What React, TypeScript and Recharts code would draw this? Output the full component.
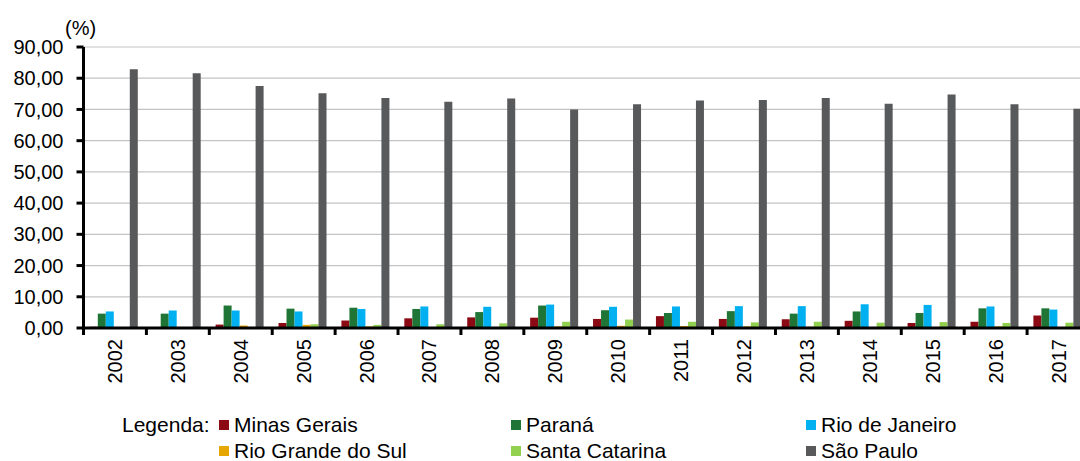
import React from 'react';
import { BarChart, Bar, XAxis, YAxis, CartesianGrid } from 'recharts';

// Participação percentual por estado, 2002–2017
const years = ['2002', '2003', '2004', '2005', '2006', '2007', '2008', '2009', '2010', '2011', '2012', '2013', '2014', '2015', '2016', '2017'];
const minasGerais = [0.4, 0.1, 1.1, 1.6, 2.4, 3.1, 3.4, 3.3, 2.9, 3.8, 2.9, 2.8, 2.3, 1.6, 2.0, 4.0];
const parana = [4.6, 4.6, 7.2, 6.2, 6.5, 6.1, 5.1, 7.2, 5.7, 4.8, 5.4, 4.6, 5.3, 4.8, 6.3, 6.3];
const rioDeJaneiro = [5.3, 5.6, 5.6, 5.3, 6.1, 6.9, 6.8, 7.5, 6.8, 6.9, 7.0, 7.0, 7.6, 7.4, 6.9, 5.9];
const rioGrandeDoSul = [0.2, 0.0, 0.8, 1.0, 0.5, 0.2, 0.2, 0.5, 0.7, 0.6, 0.5, 0.4, 0.3, 0.2, 0.5, 0.2];
const santaCatarina = [0.1, 0.2, 0.1, 1.2, 1.0, 1.2, 1.5, 2.0, 2.7, 2.0, 1.8, 2.0, 1.7, 1.9, 1.6, 1.7];
const saoPaulo = [82.9, 81.6, 77.5, 75.2, 73.7, 72.5, 73.5, 70.0, 71.7, 72.9, 73.0, 73.7, 71.8, 74.8, 71.7, 70.2];
const yTicks = [0, 10, 20, 30, 40, 50, 60, 70, 80, 90];

const series = [
  { key: 'mg', name: 'Minas Gerais', values: minasGerais, color: '#8B0A14' },
  { key: 'pr', name: 'Paraná', values: parana, color: '#1F7535' },
  { key: 'rj', name: 'Rio de Janeiro', values: rioDeJaneiro, color: '#00B0F0' },
  { key: 'rs', name: 'Rio Grande do Sul', values: rioGrandeDoSul, color: '#E6A700' },
  { key: 'sc', name: 'Santa Catarina', values: santaCatarina, color: '#92D050' },
  { key: 'sp', name: 'São Paulo', values: saoPaulo, color: '#58595B' },
];

const data = years.map((year, i) => {
  const row: Record<string, string | number> = { year };
  series.forEach((s) => {
    row[s.key] = s.values[i];
  });
  return row;
});

const FONT = '"Liberation Sans", Arial, sans-serif';
const CHART_W = 1087;
const CHART_H = 400;
const Y_AXIS_W = 75.5;
const MARGIN = { top: 39, right: 5, left: 0, bottom: 0 };
const BAND = (CHART_W - Y_AXIS_W - MARGIN.right - MARGIN.left) / years.length;

const formatPct = (v: number) => v.toFixed(2).replace('.', ',');

const YearTick = (props: any) => {
  const { x, y, payload } = props;
  const half = payload && typeof payload.offset === 'number' && payload.offset > 0 ? payload.offset : BAND / 2;
  const bx = x - half;
  return (
    <g>
      <line x1={bx} x2={bx} y1={y} y2={y + 7} stroke="#000" strokeWidth={3} />
      <text
        transform={`translate(${x},${y + 11}) rotate(-90)`}
        textAnchor="end"
        dominantBaseline="central"
        fontFamily={FONT}
        fontSize={20}
        fill="#000"
      >
        {payload.value}
      </text>
    </g>
  );
};

const legendCols = [211, 503, 798];
const legendRows = [417, 443];

export default function App() {
  return (
    <div
      style={{
        width: 1080,
        height: 461,
        overflow: 'hidden',
        background: '#fff',
        fontFamily: FONT,
      }}
    >
      <style>{'html, body { margin: 0; padding: 0; overflow: hidden; }'}</style>
      <div style={{ position: 'relative', left: 8, top: 8, width: 1072, height: 453 }}>
        <div style={{ position: 'absolute', left: 57, top: 8, fontSize: 20, lineHeight: '24px', color: '#000' }}>(%)</div>
        <BarChart
          width={CHART_W}
          height={CHART_H}
          data={data}
          margin={MARGIN}
          barCategoryGap="10%"
          barGap={0}
        >
          <CartesianGrid vertical={false} stroke="#c4c4c4" strokeWidth={1.2} />
          <XAxis
            dataKey="year"
            interval={0}
            height={CHART_H - 320 - MARGIN.bottom}
            axisLine={{ stroke: '#000', strokeWidth: 3 }}
            tickLine={false}
            tickSize={0}
            tickMargin={0}
            tick={<YearTick />}
          />
          <YAxis
            width={Y_AXIS_W}
            domain={[0, 90]}
            ticks={yTicks}
            interval={0}
            tickFormatter={formatPct}
            axisLine={{ stroke: '#000', strokeWidth: 3 }}
            tickLine={{ stroke: '#000', strokeWidth: 3 }}
            tickSize={7}
            tickMargin={13}
            tick={{ fill: '#000', fontSize: 20, fontFamily: FONT }}
          />
          {series.map((s) => (
            <Bar key={s.key} dataKey={s.key} name={s.name} fill={s.color} isAnimationActive={false} />
          ))}
        </BarChart>
        <div style={{ position: 'absolute', left: 114, top: legendRows[0] - 12, fontSize: 21, lineHeight: '24px', color: '#000' }}>
          Legenda:
        </div>
        {series.map((s, i) => {
          const col = i % 3;
          const row = Math.floor(i / 3);
          return (
            <div
              key={s.key}
              style={{
                position: 'absolute',
                left: legendCols[col],
                top: legendRows[row] - 12,
                height: 24,
                display: 'flex',
                alignItems: 'center',
                fontSize: 21,
                lineHeight: '24px',
                color: '#000',
                whiteSpace: 'nowrap',
              }}
            >
              <span style={{ display: 'inline-block', width: 10, height: 10, background: s.color, marginRight: 5 }} />
              <span>{s.name}</span>
            </div>
          );
        })}
      </div>
    </div>
  );
}
